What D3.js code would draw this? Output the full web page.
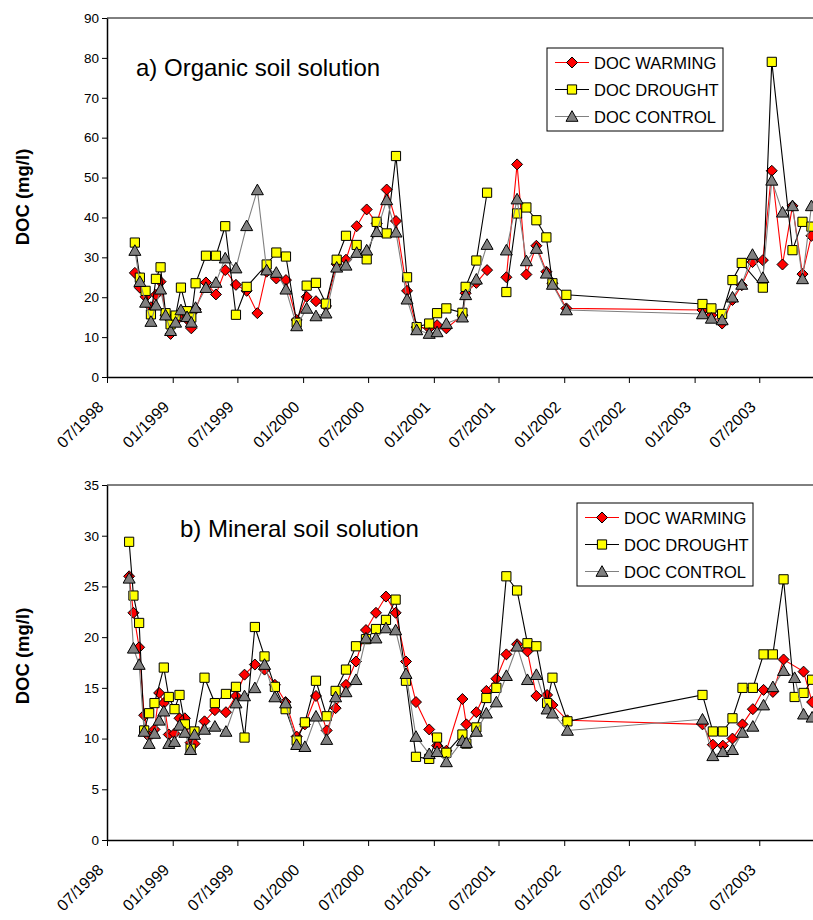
<!DOCTYPE html>
<html>
<head>
<meta charset="utf-8">
<script src="https://cdn.jsdelivr.net/npm/d3@7"></script>
<style>
  body { margin: 0; background: #fff; }
  svg { display: block; font-family: "Liberation Sans", Arial, sans-serif; }
</style>
</head>
<body>
<div id="chart"></div>
<script>
// sampling dates and DOC (mg/l)
const organicDates = [
  "1998-09-17","1998-10-01","1998-10-17","1998-11-01","1998-11-15","1998-11-28","1998-12-12","1998-12-26",
  "1999-01-09","1999-01-24","1999-02-10","1999-02-22","1999-03-06","1999-04-04","1999-05-02","1999-05-28",
  "1999-06-27","1999-07-27","1999-08-26","1999-09-21","1999-10-18","1999-11-14","1999-12-14",
  "2000-01-11","2000-02-06","2000-03-05","2000-04-04","2000-04-30","2000-05-30","2000-06-27","2000-07-25",
  "2000-08-22","2000-09-17","2000-10-18","2000-11-14","2000-12-19",
  "2001-01-10","2001-02-05","2001-03-22","2001-03-31","2001-04-30","2001-05-30","2001-06-26","2001-07-23",
  "2001-08-22","2001-09-17","2001-10-15","2001-11-12","2001-11-29","2002-01-07",
  "2003-01-23","2003-02-17","2003-03-19","2003-04-17","2003-05-13","2003-06-12","2003-07-11","2003-08-05",
  "2003-09-04","2003-10-02","2003-10-30","2003-11-24"
];
const organicWarming = [
  26.1, 22.4, 20.1, 17.5, 20.6, 23.9, 15.5, 10.8,
  14.0, 16.0, 14.5, 12.2, 17.0, 23.7, 20.7, 26.8,
  23.1, 21.6, 16.0, 26.4, 24.7, 24.3, 14.3,
  20.1, 19.0, 17.8, 28.3, 29.4, 37.8, 42.0, 38.5,
  47.0, 39.1, 21.6, 12.5, 12.2,
  13.0, 12.2, 15.5, 21.0, 23.6, 26.8, null, 25.0,
  53.3, 25.7, 32.9, 26.4, 23.5, 17.2,
  16.8, 15.5, 13.4, 19.3, 23.0, 28.8, 29.3, 51.7,
  28.2, 42.9, 25.8, 35.4
];
const organicDrought = [
  33.7, 24.9, 21.6, 15.7, 24.6, 27.5, 16.0, 13.2,
  15.4, 22.4, 16.5, 14.9, 23.5, 30.4, 30.4, 37.8,
  15.6, 22.6, null, 28.2, 31.2, 30.2, 13.6,
  22.9, 23.6, 18.4, 29.4, 35.4, 33.1, 29.5, 38.9,
  36.0, 55.4, 25.0, 12.5, 13.4,
  16.0, 17.2, 16.1, 22.6, 29.2, 46.2, null, 21.3,
  41.0, 42.5, 39.3, 35.0, 23.5, 20.6,
  18.3, 17.2, 15.8, 24.3, 28.6, null, 22.4, 79.0,
  null, 31.8, 38.9, 37.7
];
const organicControl = [
  31.7, 23.9, 18.7, 13.9, 18.0, 22.0, 15.5, 11.6,
  13.7, 16.8, 15.1, 13.7, 17.4, 22.4, 23.7, 29.8,
  27.3, 37.9, 46.9, 26.8, 26.2, 22.0, 12.8,
  17.2, 15.3, 16.0, 27.5, 28.0, 31.2, 31.8, 36.4,
  44.4, 36.3, 19.5, 11.8, 10.9,
  11.3, 13.4, 15.0, 20.6, 24.5, 33.2, null, 31.8,
  44.6, 29.1, 32.2, 26.0, 23.2, 16.8,
  15.8, 14.7, 14.3, 20.0, 23.2, 30.7, 24.9, 49.3,
  41.3, 42.9, 24.6, 42.9
];

const mineralDates = [
  "1998-09-01","1998-09-13","1998-09-29","1998-10-13","1998-10-27","1998-11-11","1998-11-24","1998-12-07","1998-12-21",
  "1999-01-06","1999-01-20","1999-02-04","1999-02-20","1999-03-03","1999-03-31","1999-04-29","1999-05-30","1999-06-27",
  "1999-07-21","1999-08-19","1999-09-15","1999-10-14","1999-11-13","1999-12-14",
  "2000-01-06","2000-02-06","2000-03-07","2000-04-01","2000-04-30","2000-05-28","2000-06-25","2000-07-23",
  "2000-08-20","2000-09-16","2000-10-15","2000-11-12","2000-12-19",
  "2001-01-10","2001-02-05","2001-03-22","2001-04-02","2001-04-30","2001-05-28","2001-06-25","2001-07-23",
  "2001-08-22","2001-09-20","2001-10-15","2001-11-14","2001-11-29",
  "2002-01-10",
  "2003-01-23","2003-02-21","2003-03-21","2003-04-17","2003-05-15","2003-06-13","2003-07-13","2003-08-08",
  "2003-09-07","2003-10-08","2003-11-02","2003-11-26"
];
const mineralWarming = [
  26.0, 22.4, 19.0, 12.3, 10.2, 10.9, 14.5, 13.5, 10.4,
  10.5, 12.0, 12.0, 9.6, 9.5, 11.7, 12.8, 12.6, 14.2,
  16.3, 17.3, 16.8, 15.3, 13.6, 10.2,
  11.4, 14.2, 10.8, 13.0, 15.3, 17.6, 20.7, 22.4,
  24.0, 22.4, 17.6, 13.6, 10.9,
  9.3, 8.8, 13.9, 11.4, 12.6, 14.7, 15.9, 18.3,
  19.3, 18.6, 14.2, 14.3, 13.3,
  11.8,
  11.4, 9.4, 9.3, 10.0, 11.4, 12.9, 14.8, 14.6,
  17.8, null, 16.6, 13.6
];
const mineralDrought = [
  29.4, 24.1, 21.4, 10.8, 12.5, 13.5, null, 17.0, 14.1,
  12.9, 14.3, 11.4, 9.0, 10.7, 16.0, 13.5, 14.4, 15.1,
  10.1, 21.0, 18.1, 15.1, 12.9, 9.8,
  11.6, 15.7, 12.2, 14.7, 16.8, 19.1, 19.8, 20.8,
  21.7, 23.7, 15.7, 8.2, 8.0,
  10.1, 8.6, 10.4, 9.5, 11.1, 14.0, 15.0, 26.0,
  24.6, 19.4, 19.1, 13.5, 16.0,
  11.7,
  14.3, 10.7, 10.7, 12.0, 15.0, 15.0, 18.3, 18.3,
  25.7, 14.1, 14.5, 15.8
];
const mineralControl = [
  25.8, 18.9, 17.3, 10.7, 9.5, 10.5, 11.8, 12.7, 9.5,
  9.7, 11.3, 10.6, 8.9, 10.4, 10.9, 11.2, 10.7, 13.5,
  14.2, 15.0, 17.3, 14.1, 13.5, 9.4,
  9.2, 12.2, 9.9, 14.1, 14.6, 15.8, 19.9, 19.9,
  20.9, 20.7, 16.4, 10.2, 8.5,
  8.7, 7.7, 9.8, 9.6, 10.7, 12.5, 13.6, 16.2,
  19.1, 15.8, 16.3, 12.9, 12.5,
  10.8,
  11.9, 8.3, 8.7, 8.9, 10.6, 11.2, 13.3, 15.1,
  16.7, 16.0, 12.4, 12.1
];

const seriesNames = ["DOC WARMING", "DOC DROUGHT", "DOC CONTROL"];
const xTickDates = ["1998-07-01","1999-01-01","1999-07-01","2000-01-01","2000-07-01","2001-01-01",
                    "2001-07-01","2002-01-01","2002-07-01","2003-01-01","2003-07-01"];
const organicYTicks = [0, 10, 20, 30, 40, 50, 60, 70, 80, 90];
const mineralYTicks = [0, 5, 10, 15, 20, 25, 30, 35];

// styles
const lineColor = ["#ff0000", "#000000", "#808080"];
const markFill = ["#ff0000", "#ffff00", "#808080"];
const markPath = [
  "M0,-5.5L5.5,0L0,5.5L-5.5,0Z",   // diamond
  "M-4.6,-4.6H4.6V4.6H-4.6Z",      // square
  "M0,-5.8L6,4.8H-6Z"              // triangle
];

const parseDate = d3.timeParse("%Y-%m-%d");
const fmt = d3.timeFormat("%m/%Y");

const svg = d3.select("#chart").append("svg")
  .attr("width", 813)
  .attr("height", 920);

// same time axis for both panels (the right part runs off the page)
const x = d3.scaleTime()
  .domain([parseDate("1998-07-01"), parseDate("2004-01-01")])
  .range([107, 825]);

const panels = [
  { title: "a) Organic soil solution", titleX: 136, titleY: 76,
    dates: organicDates, series: [organicWarming, organicDrought, organicControl],
    yTicks: organicYTicks, top: 18, bottom: 377, labelY: 197, legendX: 547, legendY: 48 },
  { title: "b) Mineral soil solution", titleX: 180, titleY: 537,
    dates: mineralDates, series: [mineralWarming, mineralDrought, mineralControl],
    yTicks: mineralYTicks, top: 485, bottom: 840, labelY: 656, legendX: 577, legendY: 503 }
];

panels.forEach(p => {
  const dates = p.dates.map(parseDate);
  const y = d3.scaleLinear()
    .domain([0, d3.max(p.yTicks)])
    .range([p.bottom, p.top]);

  const g = svg.append("g");

  // top frame line
  g.append("line")
    .attr("x1", x.range()[0]).attr("x2", x.range()[1])
    .attr("y1", p.top).attr("y2", p.top)
    .attr("stroke", "#000").attr("stroke-width", 1);

  // y axis
  g.append("g")
    .attr("transform", `translate(${x.range()[0]},0)`)
    .call(d3.axisLeft(y).tickValues(p.yTicks).tickSize(5).tickSizeOuter(0).tickPadding(3))
    .call(a => a.select(".domain").attr("stroke-width", 1.5))
    .call(a => a.selectAll("text").attr("font-size", 13.5).attr("fill", "#000").attr("font-family", null));

  // x axis
  g.append("g")
    .attr("transform", `translate(0,${p.bottom})`)
    .call(d3.axisBottom(x).tickValues(xTickDates.map(parseDate)).tickFormat(fmt)
      .tickSize(6).tickSizeOuter(0))
    .call(a => a.select(".domain").attr("stroke-width", 1.5))
    .selectAll("text")
      .attr("font-size", 16)
      .attr("font-family", null)
      .attr("fill", "#000")
      .attr("y", 0)
      .attr("dy", 0)
      .attr("text-anchor", "end")
      .attr("transform", "translate(-3,31) rotate(-45)");

  // y label
  g.append("text")
    .attr("transform", `translate(29,${p.labelY}) rotate(-90)`)
    .attr("text-anchor", "middle")
    .attr("font-size", 18.5)
    .attr("font-weight", "bold")
    .text("DOC (mg/l)");

  // panel title
  g.append("text")
    .attr("x", p.titleX).attr("y", p.titleY)
    .attr("font-size", 24)
    .text(p.title);

  // rows where nothing was sampled break the lines, single missing values are skipped
  const breakRow = dates.map((d, i) => p.series.every(s => s[i] == null));

  p.series.forEach((vals, si) => {
    const segs = [];
    let cur = [];
    dates.forEach((d, i) => {
      if (breakRow[i]) {
        if (cur.length) segs.push(cur);
        cur = [];
      } else if (vals[i] != null) {
        cur.push({ date: d, value: vals[i] });
      }
    });
    if (cur.length) segs.push(cur);

    const line = d3.line().x(d => x(d.date)).y(d => y(d.value));
    const sg = g.append("g");
    sg.selectAll("path.line")
      .data(segs)
      .join("path")
      .attr("class", "line")
      .attr("fill", "none")
      .attr("stroke", lineColor[si])
      .attr("stroke-width", 1.1)
      .attr("d", line);

    sg.selectAll("path.mark")
      .data(segs.flat())
      .join("path")
      .attr("class", "mark")
      .attr("transform", d => `translate(${x(d.date)},${y(d.value)})`)
      .attr("d", markPath[si])
      .attr("fill", markFill[si])
      .attr("stroke", "#000")
      .attr("stroke-width", 1);
  });

  // legend
  const lg = g.append("g").attr("transform", `translate(${p.legendX},${p.legendY})`);
  lg.append("rect")
    .attr("width", 176).attr("height", 83)
    .attr("fill", "#fff").attr("stroke", "#000").attr("stroke-width", 1);
  seriesNames.forEach((name, si) => {
    const ry = 14.5 + si * 27;
    lg.append("line")
      .attr("x1", 8).attr("x2", 42).attr("y1", ry).attr("y2", ry)
      .attr("stroke", lineColor[si]).attr("stroke-width", 1.1);
    lg.append("path")
      .attr("transform", `translate(25,${ry})`)
      .attr("d", markPath[si])
      .attr("fill", markFill[si])
      .attr("stroke", "#000");
    lg.append("text")
      .attr("x", 47).attr("y", ry + 6)
      .attr("font-size", 16.5)
      .text(name);
  });
});
</script>
</body>
</html>
